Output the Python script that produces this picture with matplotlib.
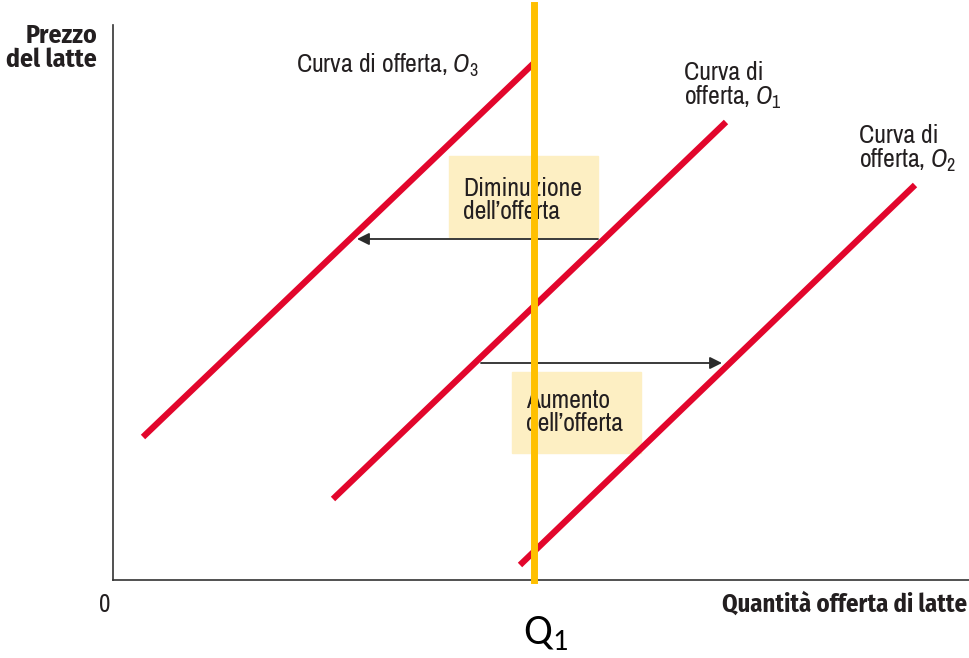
import matplotlib.pyplot as plt
from matplotlib.patches import Rectangle

plt.rcParams['font.family'] = ['Archivo Narrow', 'DejaVu Sans']
plt.rcParams['mathtext.fontset'] = 'custom'
plt.rcParams['mathtext.rm'] = 'Archivo Narrow'
plt.rcParams['mathtext.it'] = 'Archivo Narrow:italic'
plt.rcParams['mathtext.sf'] = 'Carlito'

# curve di offerta (quantità, prezzo)
o3_x = [30, 422]
o3_y = [143, 518]
o1_x = [220, 613]
o1_y = [81, 458]
o2_x = [407, 802]
o2_y = [15, 395]

q1 = 421

# frecce: diminuzione e aumento dell'offerta
dim_x = [485, 244]
dim_y = 341
aum_x = [368, 609]
aum_y = 217

fig = plt.figure(figsize=(9.69, 6.58), dpi=100)
ax = fig.add_axes([113/969, 78/658, 856/969, 555/658])
ax.set_xlim(0, 856)
ax.set_ylim(0, 555)

rosso = "#e2062c"
giallo = "#fdefc3"
testo = "#231f20"

# riquadri gialli
ax.add_patch(Rectangle((336, 343), 149, 81, color=giallo, zorder=1))
ax.add_patch(Rectangle((399, 127), 129, 81, color=giallo, zorder=1))

ax.plot(o3_x, o3_y, color=rosso, lw=4.5, solid_capstyle="butt", zorder=2)
ax.plot(o1_x, o1_y, color=rosso, lw=4.5, solid_capstyle="butt", zorder=2)
ax.plot(o2_x, o2_y, color=rosso, lw=4.5, solid_capstyle="butt", zorder=2)

ax.annotate("", xy=(dim_x[1], dim_y), xytext=(dim_x[0], dim_y),
            arrowprops=dict(arrowstyle="-|>", color="#2b2b2b", lw=1.3,
                            mutation_scale=18, shrinkA=0, shrinkB=0), zorder=3)
ax.annotate("", xy=(aum_x[1], aum_y), xytext=(aum_x[0], aum_y),
            arrowprops=dict(arrowstyle="-|>", color="#2b2b2b", lw=1.3,
                            mutation_scale=18, shrinkA=0, shrinkB=0), zorder=3)

ax.text(350, 380, "Diminuzione\ndell\u2019offerta", fontsize=18.5, va="center",
        linespacing=1.0, color=testo, zorder=3)
ax.text(413, 168, "Aumento\ndell\u2019offerta", fontsize=18.5, va="center",
        linespacing=1.0, color=testo, zorder=3)

# Q1
ax.plot([q1, q1], [0, 575], color="#ffc000", lw=5, clip_on=False, zorder=4)

ax.text(183, 515, r"Curva di offerta, $\mathit{O}_3$", fontsize=18.5, va="center", color=testo)
ax.text(571, 494, "Curva di\n" + r"offerta, $\mathit{O}_1$", fontsize=18.5, va="center",
        linespacing=1.0, color=testo)
ax.text(746, 431, "Curva di\n" + r"offerta, $\mathit{O}_2$", fontsize=18.5, va="center",
        linespacing=1.0, color=testo)

for s in ["top", "right"]:
    ax.spines[s].set_visible(False)
ax.spines["left"].set_color("#333333")
ax.spines["bottom"].set_color("#333333")
ax.spines["left"].set_linewidth(1.2)
ax.spines["bottom"].set_linewidth(1.2)
ax.set_xticks([])
ax.set_yticks([])

fig.text(97/969, 1 - 23/658, "Prezzo\ndel latte", ha="right", va="top",
         fontsize=18.5, fontweight="bold", linespacing=1.0, color=testo,
         family=["Fira Sans Condensed", "DejaVu Sans"])
fig.text(967/969, 1 - 605/658, "Quantità offerta di latte", ha="right", va="center",
         fontsize=17.8, fontweight="bold", color=testo,
         family=["Fira Sans Condensed", "DejaVu Sans"])
fig.text(105/969, 1 - 605/658, "0", ha="center", va="center", fontsize=18, color=testo)
fig.text(546/969, 1 - 634/658, r"$\mathsf{Q}_\mathsf{1}$", ha="center", va="center", fontsize=31)

fig.savefig("out.png", dpi=100)
